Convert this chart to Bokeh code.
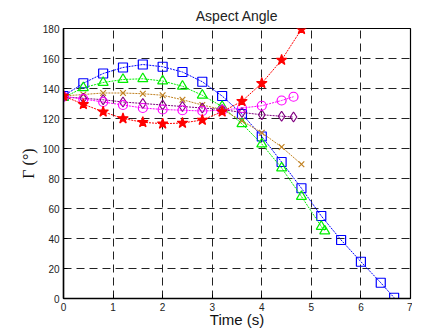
from bokeh.plotting import figure
from bokeh.models import Range1d, FixedTicker
from bokeh.embed import file_html
from bokeh.resources import INLINE

# ---- data ----
t_blue = [0, 0.4, 0.8, 1.2, 1.6, 2.0, 2.4, 2.8, 3.2, 3.6, 4.0, 4.4, 4.8, 5.2, 5.6, 6.0, 6.4, 6.67]
blue = [135, 143.5, 150, 154, 156, 154.5, 151, 144.5, 135, 123, 108, 91, 73.5, 55, 39, 24.5, 10.5, 0.5]

t_green = [0, 0.4, 0.8, 1.2, 1.6, 2.0, 2.4, 2.8, 3.2, 3.6, 4.0, 4.4, 4.8, 5.2, 5.27]
green = [134, 140.5, 144, 146, 146.5, 145, 141.5, 135.5, 128, 116.5, 103, 87, 68, 48, 45]

t_brown = [0, 0.4, 0.8, 1.2, 1.6, 2.0, 2.4, 2.8, 3.2, 3.6, 4.0, 4.4, 4.8]
brown = [135, 136, 137, 137, 136.5, 135.5, 132.5, 129, 126, 118.5, 110.5, 101, 89.5]

t_purple = [0, 0.4, 0.8, 1.2, 1.6, 2.0, 2.4, 2.8, 3.2, 3.6, 4.0, 4.4, 4.64]
purple = [134.5, 133.5, 132.5, 131, 130, 129, 128, 127, 126, 124, 122.5, 121.5, 121]

t_magenta = [0, 0.4, 0.8, 1.2, 1.6, 2.0, 2.4, 2.8, 3.2, 3.6, 4.0, 4.4, 4.64]
magenta = [134.5, 133, 131, 129, 127, 126, 125.5, 125, 125.5, 127, 128.5, 132, 134.5]

t_red = [0, 0.4, 0.8, 1.2, 1.6, 2.0, 2.4, 2.8, 3.2, 3.6, 4.0, 4.4, 4.8]
red = [135, 129.5, 124.5, 120, 117.5, 116.5, 117, 119, 124.5, 131.5, 143.5, 159, 179.5]

x_ticks = [0, 1, 2, 3, 4, 5, 6, 7]
y_ticks = [0, 20, 40, 60, 80, 100, 120, 140, 160, 180]

p = figure(width=412, height=330, output_backend="svg", toolbar_location=None,
           x_range=Range1d(0, 7), y_range=Range1d(0, 180),
           min_border_left=63, min_border_right=2, min_border_top=20, min_border_bottom=28,
           title="Aspect Angle")

p.title.align = "center"
p.title.text_font = "Liberation Sans"
p.title.text_font_size = "14px"
p.title.text_font_style = "normal"
p.title.text_color = "#222222"
p.title.offset = 0

p.outline_line_color = "black"
p.outline_line_width = 1.2
p.background_fill_color = "white"
p.border_fill_color = "white"

for ax in (p.xaxis[0], p.yaxis[0]):
    ax.axis_line_color = "black"
    ax.axis_line_width = 1.5
    ax.major_tick_in = 4
    ax.major_tick_out = 0
    ax.minor_tick_in = 0
    ax.minor_tick_out = 0
    ax.major_tick_line_color = "black"
    ax.major_label_text_font = "Liberation Sans"
    ax.major_label_text_font_size = "10px"
    ax.major_label_text_color = "#222222"
    ax.major_label_text_line_height = 1.0
    ax.axis_label_text_font_style = "normal"
    ax.axis_label_text_color = "#111111"
    ax.axis_label_text_line_height = 1.0

p.xaxis.ticker = FixedTicker(ticks=x_ticks)
p.yaxis.ticker = FixedTicker(ticks=y_ticks)
p.xaxis.major_label_standoff = 4
p.yaxis.major_label_standoff = 4

p.xaxis.axis_label = "Time (s)"
p.xaxis.axis_label_text_font = "Liberation Sans"
p.xaxis.axis_label_text_font_size = "15px"
p.xaxis.axis_label_standoff = -3

p.yaxis.axis_label = "Γ (°)"
p.yaxis.axis_label_text_font = "Liberation Serif"
p.yaxis.axis_label_text_font_size = "16px"
p.yaxis.axis_label_standoff = 3

for g in (p.xgrid[0], p.ygrid[0]):
    g.grid_line_color = "#222222"
    g.grid_line_width = 1
    g.grid_line_dash = "8 5"

series = [
    (t_blue, blue, "#0000FF", "square", 9, None),
    (t_green, green, "#00EE00", "triangle", 10, None),
    (t_brown, brown, "#C08020", "x", 8, None),
    (t_purple, purple, "#800080", "diamond", 10, None),
    (t_magenta, magenta, "#FF00FF", "circle", 9, None),
    (t_red, red, "#FF0000", "star", 11, "#FF0000"),
]

for xs, ys, col, mk, sz, fill in series:
    p.line(xs, ys, line_color=col, line_width=1, line_dash="2 1")
    p.scatter(xs, ys, marker=mk, size=sz, line_color=col, line_width=1.2,
              fill_color=fill if fill else None, fill_alpha=1 if fill else 0)

open("out.html", "w").write(file_html(p, INLINE))
